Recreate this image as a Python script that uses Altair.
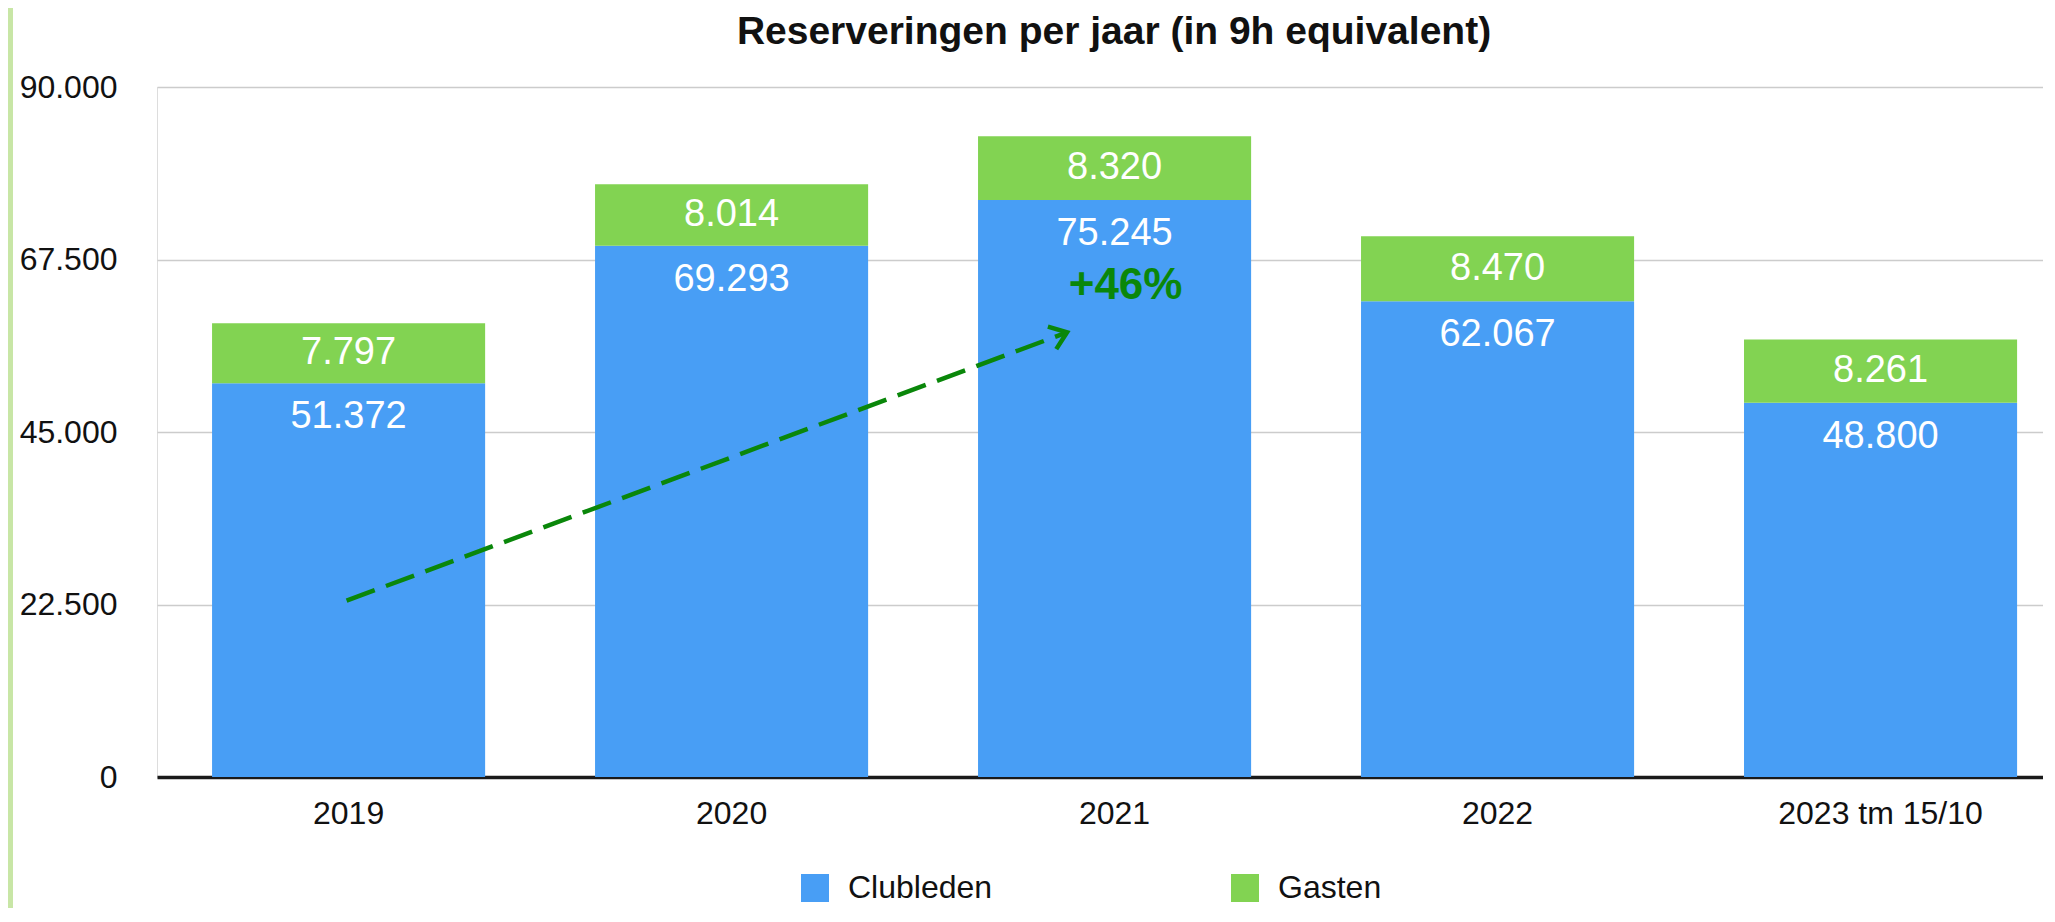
import altair as alt
import pandas as pd

FONT = "Liberation Sans"

# ---- data ----
years = ["2019", "2020", "2021", "2022", "2023 tm 15/10"]
clubleden = [51372, 69293, 75245, 62067, 48800]
gasten = [7797, 8014, 8320, 8470, 8261]
series = ["Clubleden", "Gasten"]
series_colors = ["#489ef5", "#82d352"]
y_ticks = [0, 22500, 45000, 67500, 90000]
chart_title = "Reserveringen per jaar (in 9h equivalent)"

trend_years = ["2019", "2021"]
trend_values = [23000, 58000]
trend_label = "+46%"
trend_label_value = 64000

GREEN_DARK = "#0a870a"

# ---- tables built from the lists ----
bars = pd.DataFrame(
    [{"year": y, "series": series[0], "value": c, "order": 0} for y, c in zip(years, clubleden)]
    + [{"year": y, "series": series[1], "value": g, "order": 1} for y, g in zip(years, gasten)]
)


def nl(v):
    return f"{v:,}".replace(",", ".")


labels = pd.DataFrame({
    "year": years,
    "club": clubleden,
    "club_label": [nl(v) for v in clubleden],
    "guest_mid": [c + g / 2 for c, g in zip(clubleden, gasten)],
    "guest_label": [nl(v) for v in gasten],
})

trend = pd.DataFrame({
    "year": [trend_years[0]], "year2": [trend_years[1]],
    "v": [trend_values[0]], "v2": [trend_values[1]],
})
trend_head = pd.DataFrame({"year": [trend_years[1]], "v": [trend_values[1]]})
trend_text = pd.DataFrame({"year": [trend_years[1]], "v": [trend_label_value], "t": [trend_label]})
title_df = pd.DataFrame({"t": [chart_title]})
strip = pd.DataFrame({"k": [0]})

PLOT_W, PLOT_H = 1886, 690

x_scale = alt.Scale(domain=years, paddingInner=0.287, paddingOuter=0.1057, align=0.68)
x_axis = alt.Axis(
    title=None, labelAngle=0, ticks=False, tickSize=0, domainColor="#1a1a1a",
    domainWidth=3.5, labelFontSize=32, labelFont=FONT, labelColor="#111111",
    labelPadding=46, labelBaseline="alphabetic", grid=False, labelLimit=0,
)
y_scale = alt.Scale(domain=[0, 90000], nice=False, zero=True)
y_axis = alt.Axis(
    title=None, values=y_ticks,
    labelExpr="replace(format(datum.value, ',.0f'), ',', '.')",
    domain=False, ticks=False, tickSize=0, labelPadding=40,
    labelFontSize=32, labelFont=FONT, labelColor="#111111",
    gridColor="#cccccc", gridWidth=1.5,
)


def X(field="year"):
    return alt.X(f"{field}:N", scale=x_scale, axis=x_axis, sort=years)


def Y(field):
    return alt.Y(f"{field}:Q", scale=y_scale, axis=y_axis)


bar_layer = alt.Chart(bars).mark_bar().encode(
    x=X(),
    y=alt.Y("value:Q", stack="zero", scale=y_scale, axis=y_axis),
    color=alt.Color(
        "series:N",
        scale=alt.Scale(domain=series, range=series_colors),
        legend=alt.Legend(
            title=None, orient="none", legendX=642, legendY=785,
            direction="horizontal", symbolType="square", symbolSize=784,
            symbolStrokeWidth=0, labelFontSize=32, labelFont=FONT,
            labelColor="#111111", labelOffset=17, columnPadding=236, padding=0,
        ),
    ),
    order=alt.Order("order:Q"),
)

club_text = alt.Chart(labels).mark_text(
    color="white", fontSize=38, font=FONT, baseline="middle", dy=34
).encode(x=X(), y=Y("club"), text="club_label:N")

guest_text = alt.Chart(labels).mark_text(
    color="white", fontSize=38, font=FONT, baseline="middle"
).encode(x=X(), y=Y("guest_mid"), text="guest_label:N")

trend_line = alt.Chart(trend).mark_rule(
    color=GREEN_DARK, strokeWidth=4.5, strokeDash=[30, 12], xOffset=-2, x2Offset=-47.5
).encode(x=X(), x2="year2:N", y=Y("v"), y2="v2:Q")

trend_arrow = alt.Chart(trend_head).mark_point(
    shape="M -1 -0.75 L 0 0 L -1 0.75", filled=False, stroke=GREEN_DARK,
    strokeWidth=4.5, size=1024, angle=339.6, xOffset=-47.5, opacity=1,
).encode(x=X(), y=Y("v"))

trend_pct = alt.Chart(trend_text).mark_text(
    color=GREEN_DARK, fontSize=44, fontWeight="bold", font=FONT,
    baseline="middle", dx=11,
).encode(x=X(), y=Y("v"), text="t:N")

# chart title drawn as text above the plot area
title_mark = alt.Chart(title_df).mark_text(
    font=FONT, fontSize=39, fontWeight="bold", color="#111111",
    align="center", baseline="alphabetic",
).encode(x=alt.value(957), y=alt.value(-43), text="t:N")

side_strip = alt.Chart(strip).mark_rect(color="#c8e6a6").encode(
    x=alt.value(-149), x2=alt.value(-144), y=alt.value(-79), y2=alt.value(821)
)

chart = alt.layer(
    side_strip, bar_layer, club_text, guest_text, trend_line, trend_arrow, trend_pct, title_mark
).properties(
    width=PLOT_W,
    height=PLOT_H,
    autosize=alt.AutoSizeParams(type="none"),
    padding={"left": 149, "top": 79, "right": 0, "bottom": 131},
).configure_view(stroke=None).configure(background="white")

chart.save("out.html", embed_options={"renderer": "svg", "actions": False})
